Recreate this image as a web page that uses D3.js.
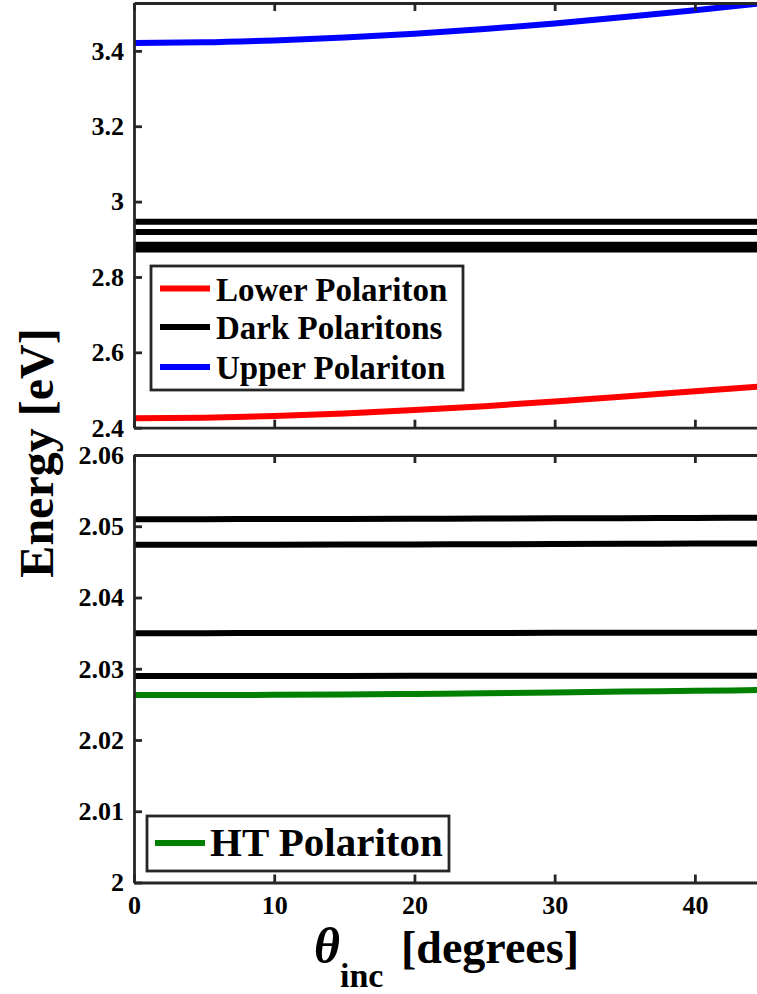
<!DOCTYPE html>
<html>
<head>
<meta charset="utf-8">
<script src="https://cdn.jsdelivr.net/npm/d3@7"></script>
<style>
  html, body { margin: 0; padding: 0; background: #fff; }
  svg { display: block; }
  text { font-family: "Liberation Serif", "Times New Roman", serif; font-weight: bold; fill: #000; }
</style>
</head>
<body>
<svg id="chart" width="757" height="994"></svg>
<script>
// Incidence angle samples (degrees)
const angles = [0, 5, 10, 15, 20, 25, 30, 35, 40, 45];

// Upper panel: polariton branches (eV)
const upperPolariton = [3.421, 3.4226, 3.4278, 3.4352, 3.4452, 3.458, 3.4728, 3.4898, 3.5078, 3.527];
const lowerPolariton = [2.425, 2.4265, 2.4308, 2.4378, 2.4468, 2.4572, 2.4696, 2.483, 2.4968, 2.510];
const darkTop1 = [2.9464, 2.9464, 2.9464, 2.9464, 2.9465, 2.9465, 2.9465, 2.9466, 2.9466, 2.9466];
const darkTop2 = [2.9190, 2.9190, 2.9190, 2.9190, 2.9191, 2.9191, 2.9191, 2.9191, 2.9192, 2.9192];
const darkTop3 = [2.8857, 2.8857, 2.8857, 2.8857, 2.8857, 2.8858, 2.8858, 2.8858, 2.8858, 2.8858];
const darkTop4 = [2.8730, 2.8730, 2.8730, 2.8730, 2.8730, 2.8730, 2.8731, 2.8731, 2.8731, 2.8731];

// Lower panel: dark states and the HT polariton (eV)
const darkBottom1 = [2.05100, 2.05100, 2.05101, 2.05103, 2.05105, 2.05108, 2.05111, 2.05114, 2.05117, 2.05119];
const darkBottom2 = [2.04740, 2.04740, 2.04741, 2.04743, 2.04745, 2.04748, 2.04751, 2.04754, 2.04757, 2.04759];
const darkBottom3 = [2.03500, 2.03500, 2.03501, 2.03501, 2.03502, 2.03503, 2.03504, 2.03505, 2.03506, 2.03507];
const darkBottom4 = [2.02900, 2.02900, 2.02900, 2.02900, 2.02901, 2.02901, 2.02901, 2.02902, 2.02902, 2.02902];
const htPolariton = [2.02630, 2.02631, 2.02634, 2.02640, 2.02647, 2.02656, 2.02667, 2.02679, 2.02690, 2.02702];

// Tick values
const xTicks = [0, 10, 20, 30, 40];
const yTicksTop = [2.4, 2.6, 2.8, 3, 3.2, 3.4];
const yTicksBottom = [2, 2.01, 2.02, 2.03, 2.04, 2.05, 2.06];

// Legend labels
const topLegend = ["Lower Polariton", "Dark Polaritons", "Upper Polariton"];
const bottomLegend = ["HT Polariton"];

const svg = d3.select("#chart");
const W = 757;
const axisColor = "#262626";
const lineW = 6;

const x = d3.scaleLinear().domain([0, 45]).range([134, 765]);
const yTop = d3.scaleLinear().domain([2.4, 3.527]).range([427.7, 3]);
const yBot = d3.scaleLinear().domain([2, 2.06]).range([882.5, 455]);

const defs = svg.append("defs");
function clipFor(id, y) {
  defs.append("clipPath").attr("id", id).append("rect")
    .attr("x", x(0)).attr("y", y.range()[1])
    .attr("width", W - x(0)).attr("height", y.range()[0] - y.range()[1]);
  return `url(#${id})`;
}

function drawSeries(g, y, values, color) {
  const line = d3.line().x((d, i) => x(angles[i])).y(d => y(d)).curve(d3.curveMonotoneX);
  g.append("path").datum(values)
    .attr("d", line)
    .attr("fill", "none")
    .attr("stroke", color)
    .attr("stroke-width", lineW);
}

function styleAxis(sel) {
  sel.attr("font-size", null).attr("font-family", null);
  sel.selectAll("path.domain").attr("stroke", axisColor).attr("stroke-width", 2.8);
  sel.selectAll(".tick line").attr("stroke", axisColor).attr("stroke-width", 2.8);
  sel.selectAll(".tick text")
    .attr("fill", "#262626")
    .style("font-family", '"Liberation Serif", "Times New Roman", serif')
    .style("font-weight", "bold")
    .style("font-size", "26px");
}

function drawFrame(y, yTickVals, showXLabels) {
  const [yb, yt] = y.range();
  // left axis with inward ticks
  svg.append("g").attr("transform", `translate(${x(0)},0)`)
    .call(d3.axisLeft(y).tickValues(yTickVals).tickFormat(d3.format("~g"))
      .tickSizeInner(-8).tickSizeOuter(0).tickPadding(10))
    .call(styleAxis);
  // top edge
  svg.append("g").attr("transform", `translate(0,${yt})`)
    .call(d3.axisTop(x).tickValues(xTicks).tickFormat("")
      .tickSizeInner(-8).tickSizeOuter(0))
    .call(styleAxis);
  // bottom edge
  svg.append("g").attr("transform", `translate(0,${yb})`)
    .call(d3.axisBottom(x).tickValues(xTicks)
      .tickFormat(showXLabels ? d3.format("d") : "")
      .tickSizeInner(-8).tickSizeOuter(0).tickPadding(13))
    .call(styleAxis);
}

// ---- upper panel ----
const gTop = svg.append("g").attr("clip-path", clipFor("clipTop", yTop));
[darkTop1, darkTop2, darkTop3, darkTop4].forEach(v => drawSeries(gTop, yTop, v, "#000000"));
drawSeries(gTop, yTop, lowerPolariton, "#ff0000");
drawSeries(gTop, yTop, upperPolariton, "#0000ff");
drawFrame(yTop, yTicksTop, false);

// ---- lower panel ----
const gBot = svg.append("g").attr("clip-path", clipFor("clipBot", yBot));
[darkBottom1, darkBottom2, darkBottom3, darkBottom4].forEach(v => drawSeries(gBot, yBot, v, "#000000"));
drawSeries(gBot, yBot, htPolariton, "#008000");
drawFrame(yBot, yTicksBottom, true);

// ---- legends ----
function legend(box, items, colors, fontSize, rowBaselines, sample, textX) {
  const g = svg.append("g");
  g.append("rect")
    .attr("x", box.x).attr("y", box.y).attr("width", box.w).attr("height", box.h)
    .attr("fill", "#fff").attr("stroke", axisColor).attr("stroke-width", 2.8);
  items.forEach((label, i) => {
    g.append("line")
      .attr("x1", sample.x1).attr("x2", sample.x2)
      .attr("y1", sample.ys[i]).attr("y2", sample.ys[i])
      .attr("stroke", colors[i]).attr("stroke-width", lineW);
    g.append("text")
      .attr("x", textX).attr("y", rowBaselines[i])
      .style("font-size", fontSize + "px")
      .text(label);
  });
}

legend({ x: 151, y: 266, w: 312, h: 124 }, topLegend, ["#ff0000", "#000000", "#0000ff"], 33,
  [300.5, 339, 379], { x1: 160, x2: 210, ys: [288.5, 327, 367] }, 216);

legend({ x: 147, y: 816, w: 302, h: 55 }, bottomLegend, ["#008000"], 41,
  [856], { x1: 155, x2: 205, ys: [843] }, 210);

// ---- axis titles ----
svg.append("text")
  .attr("transform", "translate(53,453) rotate(-90)")
  .attr("text-anchor", "middle")
  .style("font-size", "48px")
  .attr("fill", "#262626")
  .text("Energy [eV]");

svg.append("text").attr("x", 314).attr("y", 963)
  .style("font-size", "50px").style("font-style", "italic")
  .attr("fill", "#262626").text("θ");
svg.append("text").attr("x", 340).attr("y", 987)
  .style("font-size", "34px")
  .attr("fill", "#262626").text("inc");
svg.append("text").attr("x", 401).attr("y", 963)
  .style("font-size", "46px")
  .attr("fill", "#262626").text("[degrees]");
</script>
</body>
</html>
